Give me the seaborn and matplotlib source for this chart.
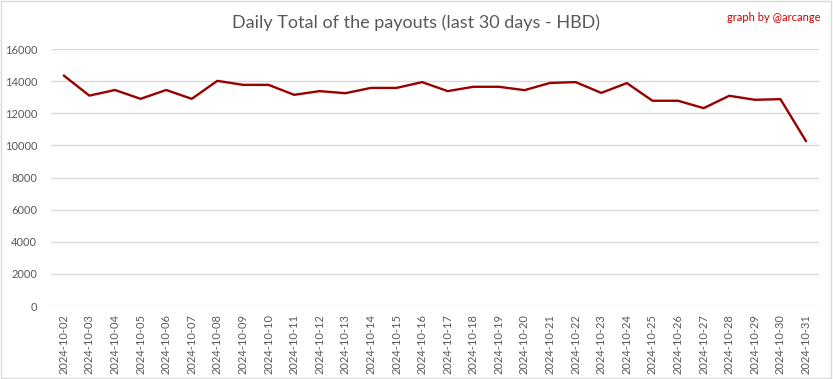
import numpy as np
import pandas as pd
import matplotlib
matplotlib.use('Agg')
import matplotlib.pyplot as plt
import seaborn as sns
from matplotlib.patches import Rectangle

# ── Data ─────────────────────────────────────────────────────
dates = pd.date_range('2024-10-02', '2024-10-31').strftime('%Y-%m-%d').tolist()
payouts = [14350, 13100, 13450, 12900, 13450, 12900, 14020, 13770, 13770, 13150,
           13380, 13250, 13580, 13580, 13940, 13380, 13650, 13650, 13440, 13890,
           13940, 13270, 13880, 12780, 12780, 12320, 13090, 12840, 12880, 10260]
y_ticks = list(range(0, 16001, 2000))

df = pd.DataFrame({'date': dates, 'payout': payouts})

# ── Plot ─────────────────────────────────────────────────────
sns.set_theme(style='white')
plt.rcParams['font.family'] = ['Lato', 'DejaVu Sans']

fig = plt.figure(figsize=(8.33, 3.79), dpi=100)
ax = fig.add_axes([0.0612, 0.1926, 0.9218, 0.678])

sns.lineplot(data=df, x='date', y='payout', ax=ax, color='#990000',
             linewidth=1.7, sort=False)

ax.set_xlim(-0.5, len(dates) - 0.5)
ax.set_ylim(0, 16000)
ax.set_yticks(y_ticks)
ax.set_yticklabels([str(v) for v in y_ticks])
ax.set_xticks(range(len(dates)))
ax.set_xticklabels(dates, rotation=90)
ax.tick_params(axis='both', length=0, labelsize=8, colors='#595959')
ax.tick_params(axis='y', pad=10)
ax.tick_params(axis='x', pad=6)
ax.grid(axis='y', color='#d9d9d9', linewidth=1)
ax.set_axisbelow(True)
for s in ax.spines.values():
    s.set_visible(False)
ax.set_xlabel(''); ax.set_ylabel('')

fig.text(0.5, 0.94, 'Daily Total of the payouts (last 30 days - HBD)',
         ha='center', va='center', fontsize=13, color='#595959')
fig.text(0.985, 0.955, 'graph by @arcange', ha='right', va='center',
         fontsize=8, color='#cc0000')

fig.patches.append(Rectangle((0.001, 0.002), 0.997, 0.995, transform=fig.transFigure,
                             fill=False, edgecolor='#d9d9d9', linewidth=1))

plt.savefig('out.png', dpi=100)
plt.close()
